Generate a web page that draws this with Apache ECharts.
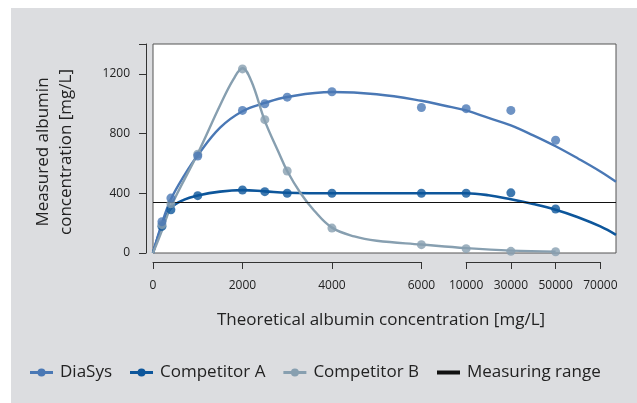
<!DOCTYPE html>
<html>
<head>
<meta charset="utf-8">
<script src="https://cdn.jsdelivr.net/npm/echarts@6/dist/echarts.min.js"></script>
<style>
html,body{margin:0;padding:0;background:#ffffff;}
#chart{width:637px;height:403px;}
</style>
</head>
<body>
<div id="chart"></div>
<script>
// ---- data ----
const pointConc   = [200, 400, 1000, 2000, 2500, 3000, 4000, 6000, 10000, 30000, 50000];
const diasysPts   = [210, 368, 650, 955, 1000, 1044, 1080, 975, 967, 955, 755];
const compAPts    = [178, 290, 384, 422, 411, 400, 400, 400, 400, 403, 295];
const compBPts    = [190, 330, 662, 1233, 893, 549, 167, 56, 29, 11, 8];

// fitted curves
const curveConc   = [0, 200, 400, 700, 1000, 1500, 2000, 2500, 3000, 4000, 5000, 6000, 8000, 10000, 20000, 30000, 40000, 50000, 60000, 70000, 77000];
const diasysCurve = [0, 200, 360, 520, 655, 840, 950, 1005, 1045, 1078, 1063, 1020, 988, 955, 905, 855, 788, 715, 633, 546, 477];
const compACurve  = [0, 180, 300, 358, 385, 411, 421, 413, 404, 400, 400, 400, 400, 400, 387, 360, 328, 290, 240, 178, 122];
const curveBConc  = [0, 200, 400, 1000, 1500, 1800, 2000, 2200, 2500, 2800, 3000, 3300, 3600, 4000, 4500, 5000, 6000, 10000, 30000, 50000];
const compBCurve  = [0, 150, 311, 667, 990, 1165, 1238, 1150, 885, 680, 549, 400, 285, 170, 111, 82, 57, 33, 16, 9];

const measuringRange = 340;

const xTicksLow  = [0, 2000, 4000, 6000];
const xTicksHigh = [10000, 30000, 50000, 70000];
const yTicks     = [0, 400, 800, 1200];

const seriesNames = ['DiaSys', 'Competitor A', 'Competitor B', 'Measuring range'];

// ---- broken x scale: linear to 6000, then one step per label ----
function toAxis(c) {
  if (c <= 6000) return c;
  if (c <= 10000) return 6000 + (c - 6000) / 4;
  return 7000 + (c - 10000) / 20;
}
const X_MAX = 10350;

// ---- layout ----
const FONT = '"Open Sans", "Noto Sans", sans-serif';
const COL_D = '#4a78b5', COL_A = '#0d569b', COL_B = '#879fb0', COL_M = '#111111';
const PLOT_L = 153, PLOT_R = 616, PLOT_T = 44, PLOT_B = 253;
const PW = PLOT_R - PLOT_L;
const pxPerUnit = PW / X_MAX;
const segAxisY = 262;

const mk = (c, v) => c.map((x, i) => [toAxis(x), v[i]]);

const lineIcon = 'path://M0,2.5H23V5.5H0Z M7.5,4A4,4,0,1,1,15.5,4A4,4,0,1,1,7.5,4Z';
const barIcon  = 'path://M0,0H23V4H0Z';

const axisColor = '#333';
const segAxisCommon = {
  type: 'value',
  position: 'bottom',
  axisLine: { show: true, onZero: false, lineStyle: { color: axisColor, width: 1 } },
  axisTick: { show: true, length: 7, lineStyle: { color: axisColor, width: 1 } },
  axisLabel: { margin: 18, fontSize: 12, fontFamily: FONT, color: '#222', formatter: v => String(v) },
  splitLine: { show: false }
};

const chart = echarts.init(document.getElementById('chart'), null, { renderer: 'canvas' });
chart.setOption({
  animation: false,
  backgroundColor: '#ffffff',
  textStyle: { fontFamily: FONT },
  graphic: [
    { type: 'rect', z: -100, shape: { x: 11, y: 8, width: 626, height: 395 }, style: { fill: '#dcdde0' } },
    { type: 'text', x: 55, y: 152, rotation: Math.PI / 2, z: 10,
      style: { text: 'Measured albumin\nconcentration [mg/L]', fontSize: 17, fontFamily: FONT, fill: '#222',
               align: 'center', verticalAlign: 'middle', lineHeight: 23 } },
    { type: 'text', x: 381, y: 320, z: 10,
      style: { text: 'Theoretical albumin concentration [mg/L]', fontSize: 17, fontFamily: FONT, fill: '#222',
               align: 'center', verticalAlign: 'middle' } }
  ],
  legend: {
    left: 30, top: 364, padding: 0,
    itemWidth: 23, itemHeight: 8, itemGap: 18,
    symbolKeepAspect: true,
    textStyle: { fontSize: 17, fontFamily: FONT, color: '#222', lineHeight: 17, padding: [0, 0, 0, 2] },
    data: [
      { name: seriesNames[0], icon: lineIcon, itemStyle: { color: COL_D } },
      { name: seriesNames[1], icon: lineIcon, itemStyle: { color: COL_A } },
      { name: seriesNames[2], icon: lineIcon, itemStyle: { color: COL_B } },
      { name: seriesNames[3], icon: barIcon,  itemStyle: { color: COL_M } }
    ]
  },
  grid: [
    { left: PLOT_L, top: PLOT_T, width: PW, height: PLOT_B - PLOT_T, show: true,
      backgroundColor: '#ffffff', borderColor: '#555', borderWidth: 1 },
    { left: PLOT_L, top: segAxisY - 1, width: 6000 * pxPerUnit, height: 1 },
    { left: PLOT_L + 7000 * pxPerUnit, top: segAxisY - 1, width: 3000 * pxPerUnit, height: 1 }
  ],
  xAxis: [
    { gridIndex: 0, type: 'value', min: 0, max: X_MAX, show: false },
    Object.assign({}, segAxisCommon, { gridIndex: 1, min: xTicksLow[0], max: xTicksLow[xTicksLow.length - 1],
      interval: xTicksLow[1] - xTicksLow[0] }),
    Object.assign({}, segAxisCommon, { gridIndex: 2, min: xTicksHigh[0], max: xTicksHigh[xTicksHigh.length - 1],
      interval: xTicksHigh[1] - xTicksHigh[0] })
  ],
  yAxis: [
    { gridIndex: 0, type: 'value', min: 0, max: 1400, interval: yTicks[1] - yTicks[0], offset: 7,
      axisLine: { show: true, onZero: false, lineStyle: { color: axisColor, width: 1 } },
      axisTick: { show: true, length: 7, lineStyle: { color: axisColor, width: 1 } },
      axisLabel: { margin: 16, fontSize: 12, fontFamily: FONT, color: '#222',
                   formatter: v => (yTicks.indexOf(v) >= 0 ? String(v) : '') },
      splitLine: { show: false } },
    { gridIndex: 1, type: 'value', show: false },
    { gridIndex: 2, type: 'value', show: false }
  ],
  series: [
    { name: seriesNames[3], type: 'line', data: [], color: COL_M, z: 1,
      markLine: { silent: true, symbol: 'none', label: { show: false },
                  lineStyle: { type: 'solid', color: COL_M, width: 1 },
                  data: [{ yAxis: measuringRange }] } },
    { name: seriesNames[1], type: 'line', smooth: 0.4, symbol: 'none', data: mk(curveConc, compACurve),
      color: COL_A, lineStyle: { color: COL_A, width: 2.6 }, z: 2 },
    { name: seriesNames[0], type: 'line', smooth: 0.4, symbol: 'none', data: mk(curveConc, diasysCurve),
      color: COL_D, lineStyle: { color: COL_D, width: 2.4 }, z: 2 },
    { name: seriesNames[2], type: 'line', smooth: 0.4, symbol: 'none', data: mk(curveBConc, compBCurve),
      color: COL_B, lineStyle: { color: COL_B, width: 2.4 }, z: 2 },
    { name: seriesNames[1], type: 'scatter', symbolSize: 9, data: mk(pointConc, compAPts),
      itemStyle: { color: COL_A }, z: 5 },
    { name: seriesNames[2], type: 'scatter', symbolSize: 9, data: mk(pointConc, compBPts),
      itemStyle: { color: COL_B }, z: 5 },
    { name: seriesNames[0], type: 'scatter', symbolSize: 9, data: mk(pointConc, diasysPts),
      itemStyle: { color: COL_D }, z: 5 }
  ]
});
</script>
</body>
</html>
